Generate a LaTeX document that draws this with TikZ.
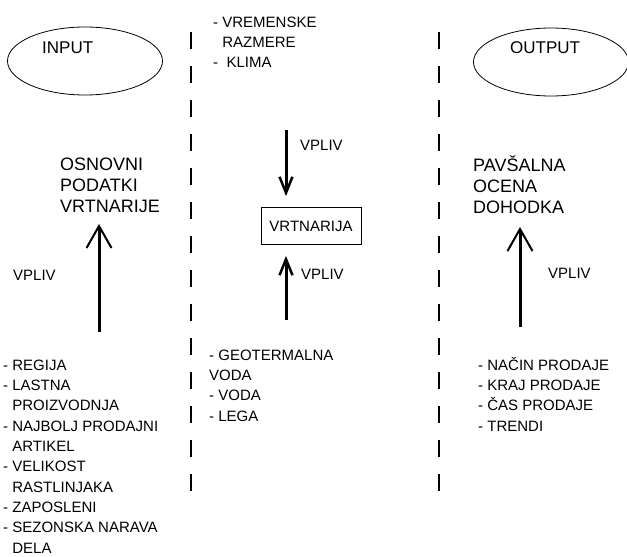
\documentclass[tikz,border=0pt]{standalone}
\usepackage{fontspec}
\setmainfont{Liberation Sans}
\usetikzlibrary{positioning,shapes.geometric,arrows.meta}

\begin{document}
\begin{tikzpicture}[x=1pt, y=-1pt,
    oval/.style={ellipse, draw, line width=0.8pt, minimum width=155pt, minimum height=68pt, inner sep=0pt},
    title/.style={font=\fontsize{17}{20}\selectfont, inner sep=0pt, anchor=base west},
    big/.style={font=\fontsize{18}{21}\selectfont, align=left, inner sep=0pt, anchor=base west},
    list/.style={font=\fontsize{15}{20.3}\selectfont, align=left, inner sep=0pt, anchor=base west},
    lbl/.style={font=\fontsize{15}{18}\selectfont, inner sep=0pt, anchor=base west},
    box/.style={rectangle, draw, line width=0.8pt, minimum width=100pt, minimum height=37pt, font=\fontsize{15}{18}\selectfont},
    sep/.style={line width=1.6pt, dash pattern=on 17pt off 17pt},
    bigarr/.style={line width=3pt, -{Straight Barb[length=22pt, width=25pt, line width=2pt]}},
    arr/.style={line width=3pt, -{Straight Barb[length=16pt, width=13pt, line width=2.5pt]}}
  ]
  \useasboundingbox (0,0) rectangle (627,557);

  % input / output
  \node[oval] (input) at (85,61) {};
  \node[title] (inputtxt) at (42,53) {INPUT};
  \node[oval] (output) at (551,62) {};
  \node[title] (outputtxt) at (510,53) {OUTPUT};

  % separators
  \coordinate (s1top) at (191,32);
  \coordinate (s1bot) at (191,495);
  \coordinate (s2top) at (439,32);
  \coordinate (s2bot) at (439,495);
  \draw[sep] (s1top) -- (s1bot);
  \draw[sep] (s2top) -- (s2bot);

  % left column (base = last line)
  \node[big] (basic) at (60,212) {OSNOVNI\\PODATKI\\VRTNARIJE};
  \node[lbl] (vplivleft) at (13,280) {VPLIV};
  \node[list] (leftlist) at (3,553) {- REGIJA\\- LASTNA\\\hphantom{- }PROIZVODNJA\\- NAJBOLJ PRODAJNI\\\hphantom{- }ARTIKEL\\- VELIKOST\\\hphantom{- }RASTLINJAKA\\- ZAPOSLENI\\- SEZONSKA NARAVA\\\hphantom{- }DELA};
  \coordinate (lfoot) at (99,332);
  \coordinate (ltip) at (99,224);
  \draw[bigarr] (lfoot) -- (ltip);

  % middle column
  \node[list] (weather) at (213,67.6) {- VREMENSKE\\\hphantom{- }RAZMERE\\-\ \ KLIMA};
  \node[box] (garden) at (311,226) {VRTNARIJA};
  \node[lbl] (vplivtop) at (300,150) {VPLIV};
  \node[lbl] (vplivbot) at (301,279) {VPLIV};
  \node[list] (site) at (209,421) {- GEOTERMALNA\\VODA\\- VODA\\- LEGA};
  \coordinate (wfoot) at (286,130);
  \coordinate (gfoot) at (286,320);
  \draw[arr] (wfoot) -- ([yshift=11pt]garden.north -| wfoot);
  \draw[arr] (gfoot) -- ([yshift=-11pt]garden.south -| gfoot);

  % right column
  \node[big] (income) at (473,213) {PAVŠALNA\\OCENA\\DOHODKA};
  \node[lbl] (vplivright) at (548,278) {VPLIV};
  \node[list] (sales) at (478,431) {- NAČIN PRODAJE\\- KRAJ PRODAJE\\- ČAS PRODAJE\\- TRENDI};
  \coordinate (rfoot) at (520,327);
  \coordinate (rtip) at (520,227);
  \draw[bigarr] (rfoot) -- (rtip);
\end{tikzpicture}
\end{document}
